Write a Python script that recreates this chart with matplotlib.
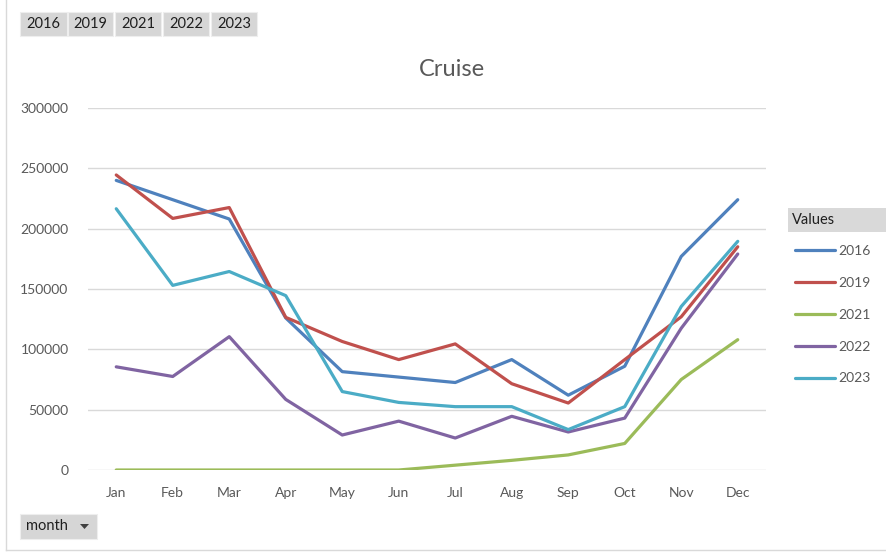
import matplotlib
matplotlib.use("Agg")
import matplotlib.pyplot as plt
from matplotlib.patches import Rectangle, Polygon
from matplotlib.lines import Line2D

months = ["Jan", "Feb", "Mar", "Apr", "May", "Jun", "Jul", "Aug", "Sep", "Oct", "Nov", "Dec"]
years = ["2016", "2019", "2021", "2022", "2023"]
v2016 = [240000, 224000, 208000, 126000, 81500, 77000, 72500, 91500, 62000, 86000, 177000, 224000]
v2019 = [244500, 208500, 217500, 126500, 106500, 91500, 104500, 71500, 55500, 91500, 127000, 185000]
v2021 = [0, 0, 0, 0, 0, 0, 4000, 8000, 12500, 22000, 75000, 108000]
v2022 = [85500, 77500, 110500, 58500, 29000, 40500, 26500, 44500, 31500, 43000, 117500, 179000]
v2023 = [216500, 153000, 164500, 144500, 65000, 56000, 52500, 52500, 33500, 52500, 135500, 189500]
series = [v2016, v2019, v2021, v2022, v2023]
colors = ["#4F81BD", "#C0504D", "#9BBB59", "#8064A2", "#4BACC6"]
yticks = [0, 50000, 100000, 150000, 200000, 250000, 300000]

plt.rcParams['font.family'] = ['Lato', 'DejaVu Sans']

W, H = 887, 552
fig = plt.figure(figsize=(W / 100, H / 100), dpi=100)

def fx(px):
    return px / W

def fy(py):
    return 1 - py / H

ax = fig.add_axes([fx(88), fy(470), fx(766) - fx(88), fy(108) - fy(470)])
x = list(range(len(months)))
for name, vals, c in zip(years, series, colors):
    ax.plot(x, vals, color=c, lw=2.3, label=name, solid_capstyle='round', solid_joinstyle='round', zorder=3)

ax.set_xlim(-0.5, 11.5)
ax.set_ylim(0, 300000)
ax.set_yticks(yticks)
ax.set_yticklabels([str(t) for t in yticks])
ax.set_xticks(x)
ax.set_xticklabels(months)
ax.grid(axis='y', color='#D9D9D9', lw=1, zorder=0)
ax.set_axisbelow(True)
for s in ax.spines.values():
    s.set_visible(False)
ax.tick_params(axis='both', length=0, colors='#595959', labelsize=10)
ax.tick_params(axis='y', pad=14)
ax.tick_params(axis='x', pad=12)

fig.text(fx(452), fy(70), "Cruise", ha='center', va='center', fontsize=17, color='#595959')

leg = ax.legend(loc='upper left', bbox_to_anchor=(fx(795), fy(245)), bbox_transform=fig.transFigure,
                frameon=False, fontsize=10, handlelength=2.9, handletextpad=0.25,
                labelspacing=1.43, borderpad=0, borderaxespad=0)
for t in leg.get_texts():
    t.set_color('#595959')

# "Values" header
fig.add_artist(Rectangle((fx(788), fy(232)), fx(887) - fx(788), fy(208) - fy(232),
                         transform=fig.transFigure, facecolor='#D9D9D9', edgecolor='none'))
fig.text(fx(792), fy(220), "Values", ha='left', va='center', fontsize=10.5, color='#1F1F1F')

# Filter buttons on top
bx = [(20, 67), (68, 113), (115, 161), (163, 209), (211, 257)]
for (x0, x1), lab in zip(bx, years):
    fig.add_artist(Rectangle((fx(x0), fy(36)), fx(x1) - fx(x0), fy(12) - fy(36),
                             transform=fig.transFigure, facecolor='#D6D6D6', edgecolor='#EEEEEE', lw=0.8))
    fig.text(fx((x0 + x1) / 2), fy(24), lab, ha='center', va='center', fontsize=10.5, color='#1F1F1F')

# month button
fig.add_artist(Rectangle((fx(20), fy(539)), fx(97) - fx(20), fy(514) - fy(539),
                         transform=fig.transFigure, facecolor='#D6D6D6', edgecolor='#EEEEEE', lw=0.8))
fig.text(fx(26), fy(526.5), "month", ha='left', va='center', fontsize=10.5, color='#1F1F1F')
fig.add_artist(Polygon([(fx(80), fy(524)), (fx(89), fy(524)), (fx(84.5), fy(529))],
                       closed=True, transform=fig.transFigure, facecolor='#404040', edgecolor='none'))

# frame border lines
fig.add_artist(Line2D([fx(6), fx(6)], [fy(0), fy(550)], transform=fig.transFigure, color='#D9D9D9', lw=1))
fig.add_artist(Line2D([fx(6), fx(887)], [fy(550), fy(550)], transform=fig.transFigure, color='#D9D9D9', lw=1))

fig.savefig("out.png", dpi=100)
